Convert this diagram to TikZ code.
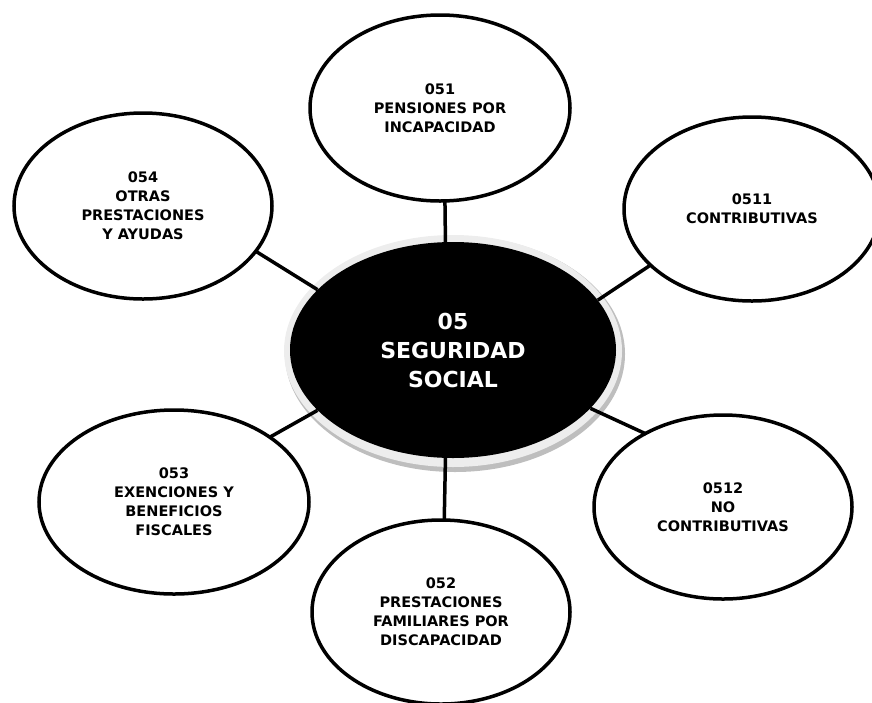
\documentclass[tikz,border=0pt]{standalone}
\usepackage{fontspec}
\setmainfont{DejaVu Sans}
\usetikzlibrary{shapes.geometric}
\definecolor{haloLight}{HTML}{EDEDED}
\definecolor{haloDark}{HTML}{BEBEBE}
\begin{document}
\begin{tikzpicture}[x=1pt,y=-1pt,
  bubble/.style={ellipse, draw=black, line width=3.5pt, fill=white, inner sep=0pt,
    align=center, font=\fontsize{14.5}{19}\selectfont\bfseries},
  hub/.style={ellipse, fill=black, text=white, inner sep=0pt, align=center,
    font=\fontsize{22}{29}\selectfont\bfseries},
  link/.style={draw=black, line width=3.5pt, shorten <=-3pt}]
\useasboundingbox (0,0) rectangle (872,702);
\clip (0,0) rectangle (872,702);
% halo around the centre
\fill[haloDark] (455,354) ellipse [x radius=170, y radius=118];
\fill[haloLight] (453,351) ellipse [x radius=169, y radius=116];
\node[hub, minimum width=326pt, minimum height=216pt] (c) at (453,350) {05\\SEGURIDAD\\SOCIAL};
% outer bubbles
\node[bubble, minimum width=260pt, minimum height=186pt] (n051) at (440,108) {051\\PENSIONES POR\\INCAPACIDAD};
\node[bubble, minimum width=258pt, minimum height=186pt] (n054) at (143,206) {054\\OTRAS\\PRESTACIONES\\Y AYUDAS};
\node[bubble, minimum width=256pt, minimum height=184pt] (n0511) at (752,209) {0511\\CONTRIBUTIVAS};
\node[bubble, minimum width=270pt, minimum height=184pt] (n053) at (174,502) {053\\EXENCIONES Y\\BENEFICIOS\\FISCALES};
\node[bubble, minimum width=258pt, minimum height=184pt] (n0512) at (723,507) {0512\\NO\\CONTRIBUTIVAS};
\node[bubble, minimum width=258pt, minimum height=184pt] (n052) at (441,612) {052\\PRESTACIONES\\FAMILIARES POR\\DISCAPACIDAD};
% connectors
\draw[link] (n051.273) -- (c.94);
\draw[link] (n054.338) -- (c.156);
\draw[link] (n0511.209) -- (c.19);
\draw[link] (n053.34) -- (c.204);
\draw[link] (n0512.137) -- (c.337);
\draw[link] (n052.88) -- (c.266);
\end{tikzpicture}
\end{document}
